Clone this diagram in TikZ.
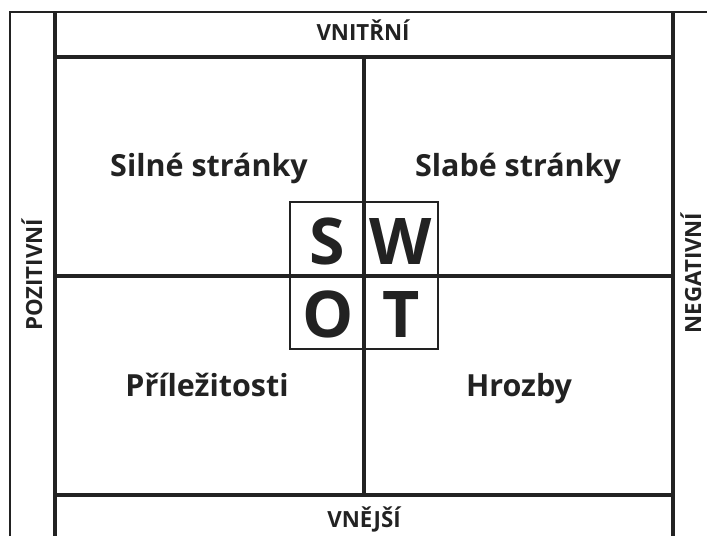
\documentclass[tikz,border=0pt]{standalone}
\usepackage{fontspec}
\setmainfont{Open Sans}
\definecolor{ink}{HTML}{222222}

\begin{document}
\begin{tikzpicture}[x=0.03cm, y=-0.03cm,
  thinline/.style={draw=ink, line width=1.3pt},
  thickline/.style={draw=ink, line width=2.8pt},
  label/.style={text=ink, anchor=base, inner sep=0pt, font=\bfseries\fontsize{26}{28}\selectfont},
  side/.style={text=ink, anchor=base, inner sep=0pt, font=\bfseries\fontsize{19}{21}\selectfont},
  letter/.style={text=ink, anchor=base, inner sep=0pt, font=\bfseries\fontsize{55}{60}\selectfont}]
\useasboundingbox (0,0) rectangle (707,536);

% frame corners
\coordinate (TL) at (10,12);
\coordinate (TR) at (707,12);
\coordinate (BL) at (10,536);
\coordinate (L1) at (55,12);
\coordinate (L2) at (55,536);
\coordinate (R1) at (673,12);
\coordinate (R2) at (673,536);
\coordinate (T1) at (55,57);
\coordinate (T2) at (673,57);
\coordinate (B1) at (55,495);
\coordinate (B2) at (673,495);
\coordinate (M1) at (364,57);
\coordinate (M2) at (364,495);
\coordinate (H1) at (55,276);
\coordinate (H2) at (673,276);

% outer frame
\draw[thinline] (BL) -- (TL) -- (TR);
\draw[thickline] (L1) -- (L2);
\draw[thickline] (R1) -- (R2);
\draw[thickline] (T1) -- (T2);
\draw[thickline] (B1) -- (B2);

% cross
\draw[thickline] (M1) -- (M2);
\draw[thickline] (H1) -- (H2);

% SWOT box
\coordinate (S1) at (290,202);
\coordinate (S2) at (438,349);
\draw[thinline] (S1) rectangle (S2);

% side labels
\node[side] (in) at (363,41) {VNITŘNÍ};
\node[side] (out) at (364,527) {VNĚJŠÍ};
\node[side, rotate=90] (pos) at (42,275) {POZITIVNÍ};
\node[side, rotate=90] (neg) at (701,273) {NEGATIVNÍ};

% quadrant labels
\node[label] (str) at (209,176) {Silné stránky};
\node[label] (weak) at (518,176) {Slabé stránky};
\node[label] (opp) at (207,396) {Příležitosti};
\node[label] (thr) at (519,396) {Hrozby};

% letters
\node[letter] (S) at (327,264) {S};
\node[letter] (W) at (401,264) {W};
\node[letter] (O) at (328,337) {O};
\node[letter] (T) at (401,337) {T};
\end{tikzpicture}
\end{document}
